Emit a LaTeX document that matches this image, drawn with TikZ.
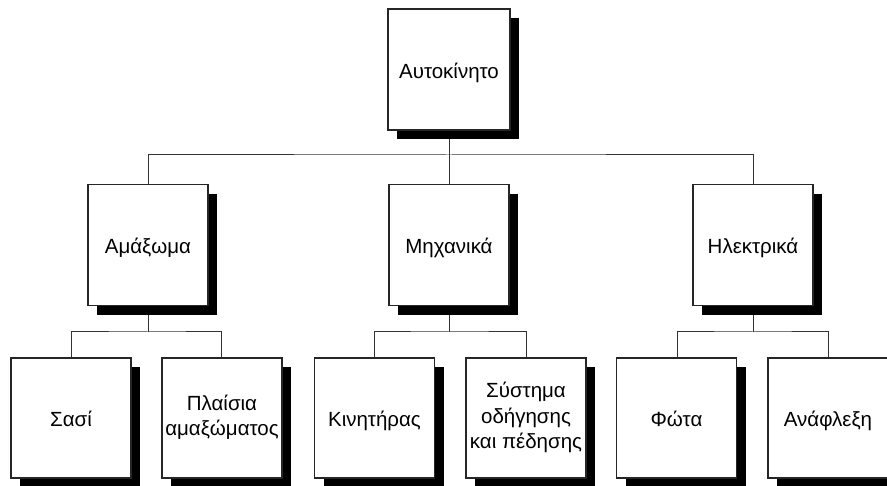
\documentclass[tikz,border=0pt]{standalone}
\usepackage{fontspec}
\setmainfont{Liberation Sans}
\usetikzlibrary{shadows}
% several centred lines, lowered a little inside their box
\newcommand\boxlines[1]{\raisebox{-5pt}{\begin{tabular}{@{}c@{}}#1\end{tabular}}}
\begin{document}
\begin{tikzpicture}[x=1pt,y=1pt,
  unit/.style={draw=black!85, line width=1.1pt, fill=white, inner sep=0pt,
    minimum width=120pt, minimum height=121pt, align=center,
    font=\fontsize{20.5}{25.5}\selectfont,
    drop shadow={shadow xshift=9pt, shadow yshift=-9.5pt, fill=black, opacity=1}},
  oneline/.style={text height=20pt, text depth=2pt},
  link/.style={draw=black!80, line width=1pt}]
\useasboundingbox (0,0) rectangle (887,-486);

% bus coordinates of the tree
\coordinate (bus0) at (449,-155);
\coordinate (busA) at (148,-332);
\coordinate (busB) at (449,-332);
\coordinate (busC) at (753,-332);

% connectors (drawn first, boxes cover their ends)
\coordinate (t0) at (449,-130);
\draw[link] (t0) -- (bus0);
\draw[link] (148,-184) |- (bus0) -| (753,-184);
\draw[link] (bus0) -- (449,-184);

\draw[link] (148,-305) -- (busA);
\draw[link] (71,-358) |- (busA) -| (221,-358);
\draw[link] (449,-305) -- (busB);
\draw[link] (374,-358) |- (busB) -| (526,-358);
\draw[link] (753,-305) -- (busC);
\draw[link] (677,-358) |- (busC) -| (828,-358);

% boxes
\node[unit, oneline, minimum width=122pt] (car) at (449,-69.5) {Αυτοκίνητο};

\node[unit, oneline] (body) at (148,-245) {Αμάξωμα};
\node[unit, oneline] (mech) at (449,-245) {Μηχανικά};
\node[unit, oneline] (elec) at (753,-245) {Ηλεκτρικά};

\node[unit, oneline, minimum height=120pt] (chassis) at (71,-418) {Σασί};
\node[unit, minimum height=120pt] (frames) at (222,-418) {\boxlines{Πλαίσια\\αμαξώματος}};
\node[unit, oneline, minimum height=120pt] (engine) at (374.5,-418) {Κινητήρας};
\node[unit, minimum height=120pt] (steer) at (526,-418) {\boxlines{Σύστημα\\οδήγησης\\και πέδησης}};
\node[unit, oneline, minimum height=120pt] (lights) at (676.5,-418) {Φώτα};
\node[unit, oneline, minimum height=120pt] (ignition) at (828,-418) {Ανάφλεξη};
\end{tikzpicture}
\end{document}
